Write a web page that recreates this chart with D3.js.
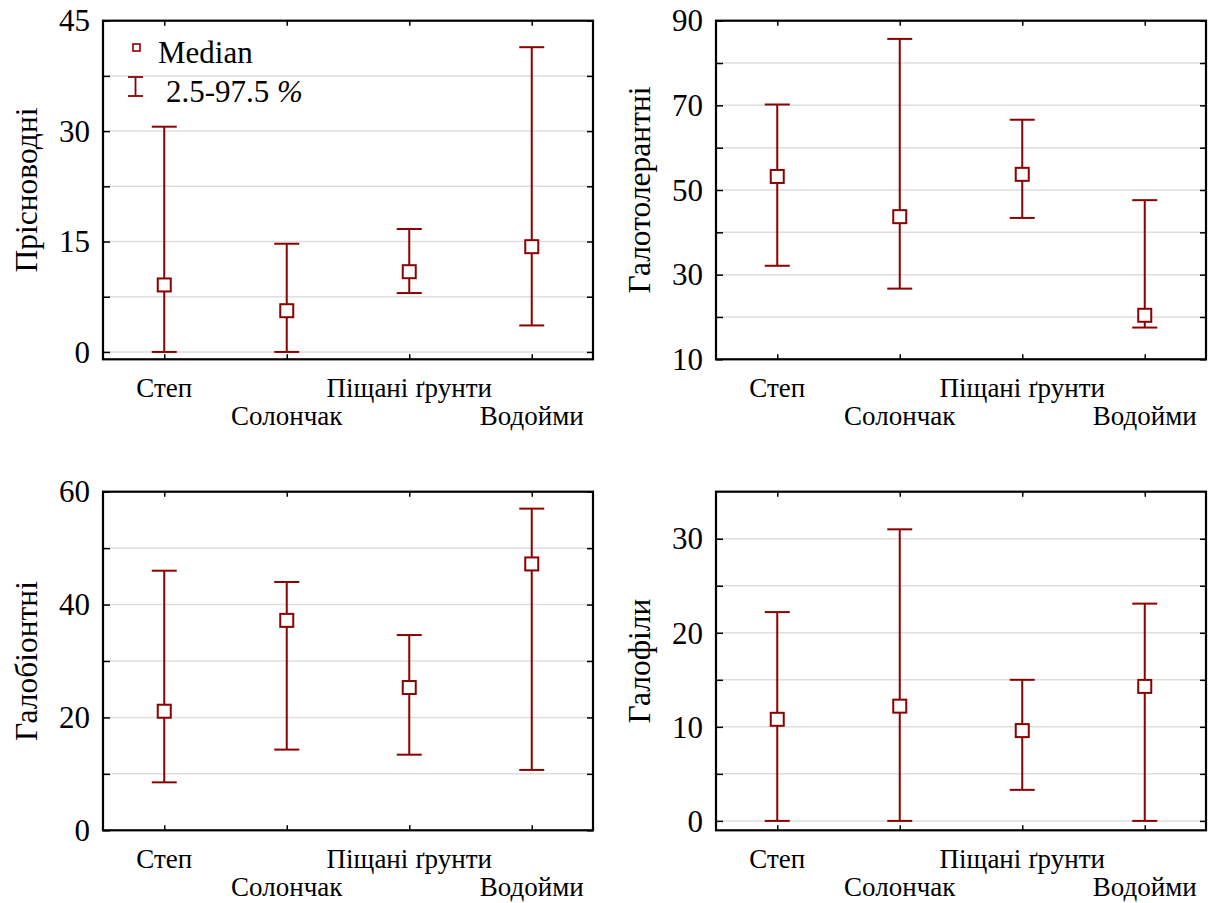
<!DOCTYPE html>
<html>
<head>
<meta charset="utf-8">
<script src="https://cdn.jsdelivr.net/npm/d3@7"></script>
<style>
  body { margin: 0; background: #fff; }
</style>
</head>
<body>
<script>
// four panels of median + 2.5-97.5 % intervals per habitat
const categories = ["Степ", "Солончак", "Піщані ґрунти", "Водойми"];

const freshMedian = [9.1, 5.6, 10.9, 14.3];
const freshLow = [0, 0, 8.0, 3.6];
const freshHigh = [30.6, 14.7, 16.7, 41.4];
const freshTicks = [0, 15, 30, 45];
const freshGrid = [0, 7.5, 15, 22.5, 30, 37.5, 45];

const tolMedian = [53.2, 43.7, 53.7, 20.4];
const tolLow = [32.1, 26.7, 43.4, 17.5];
const tolHigh = [70.2, 85.7, 66.6, 47.6];
const tolTicks = [10, 30, 50, 70, 90];
const tolGrid = [10, 20, 30, 40, 50, 60, 70, 80, 90];

const bioMedian = [21.1, 37.2, 25.3, 47.2];
const bioLow = [8.5, 14.3, 13.4, 10.7];
const bioHigh = [46.0, 44.0, 34.6, 57.0];
const bioTicks = [0, 20, 40, 60];
const bioGrid = [0, 10, 20, 30, 40, 50, 60];

const philMedian = [10.8, 12.2, 9.6, 14.3];
const philLow = [0, 0, 3.3, 0];
const philHigh = [22.2, 31.0, 15.0, 23.1];
const philTicks = [0, 10, 20, 30];
const philGrid = [0, 5, 10, 15, 20, 25, 30];

const WIDTH = 1213;
const HEIGHT = 903;
const PW = 490;      // plot width
const PH = 338.6;    // plot height
const RED = "#8B0000";
const FONT = '"Liberation Serif", serif';

const panels = [
  {title: "Прісноводні", median: freshMedian, low: freshLow, high: freshHigh, ticks: freshTicks, grid: freshGrid, domain: [-1, 45], x: 103, y: 20.7},
  {title: "Галотолерантні", median: tolMedian, low: tolLow, high: tolHigh, ticks: tolTicks, grid: tolGrid, domain: [10, 90], x: 716, y: 20.7},
  {title: "Галобіонтні", median: bioMedian, low: bioLow, high: bioHigh, ticks: bioTicks, grid: bioGrid, domain: [0, 60], x: 103, y: 491.7},
  {title: "Галофіли", median: philMedian, low: philLow, high: philHigh, ticks: philTicks, grid: philGrid, domain: [-1, 35], x: 716, y: 491.7}
];

const svg = d3.select("body")
  .append("svg")
  .attr("width", WIDTH)
  .attr("height", HEIGHT)
  .style("display", "block");

panels.forEach(p => {
  const g = svg.append("g").attr("transform", `translate(${p.x},${p.y})`);

  const xScale = d3.scalePoint().domain(categories).range([0, PW]).padding(0.5);
  const yScale = d3.scaleLinear().domain(p.domain).range([PH, 0]);

  // gridlines
  g.selectAll(".grid")
    .data(p.grid)
    .join("line")
    .attr("class", "grid")
    .attr("x1", 0).attr("x2", PW)
    .attr("y1", d => yScale(d)).attr("y2", d => yScale(d))
    .attr("stroke", "#dedede")
    .attr("stroke-width", 1.5);

  // axes, ticks pointing inward
  const yAxis = d3.axisLeft(yScale)
    .tickValues(p.grid)
    .tickSize(-7)
    .tickSizeOuter(0)
    .tickPadding(13)
    .tickFormat(d => p.ticks.includes(d) ? d : "");
  const yAxisG = g.append("g").call(yAxis);
  yAxisG.selectAll("text")
    .style("font-family", FONT)
    .style("font-size", "31px")
    .attr("fill", "#000")
    .attr("dy", "0.33em");

  g.append("g").attr("transform", `translate(${PW},0)`)
    .call(d3.axisRight(yScale).tickValues(p.grid).tickSize(-6).tickSizeOuter(0).tickFormat(""));
  g.append("g")
    .call(d3.axisTop(xScale).tickSize(-5).tickSizeOuter(0).tickFormat(""));
  g.append("g").attr("transform", `translate(0,${PH})`)
    .call(d3.axisBottom(xScale).tickSize(-5).tickSizeOuter(0).tickFormat(""));

  g.selectAll(".tick line").attr("stroke", "#000").attr("stroke-width", 1.5);
  g.selectAll(".domain").remove();

  g.append("rect")
    .attr("width", PW).attr("height", PH)
    .attr("fill", "none")
    .attr("stroke", "#000")
    .attr("stroke-width", 2.2);

  // staggered category labels
  g.selectAll(".cat")
    .data(categories)
    .join("text")
    .attr("class", "cat")
    .attr("x", d => xScale(d))
    .attr("y", (d, i) => PH + (i % 2 === 0 ? 37.5 : 66))
    .attr("text-anchor", "middle")
    .style("font-family", FONT)
    .style("font-size", "27px")
    .text(d => d);

  // y title
  g.append("text")
    .attr("transform", "rotate(-90)")
    .attr("x", -PH / 2)
    .attr("y", -66)
    .attr("text-anchor", "middle")
    .style("font-family", FONT)
    .style("font-size", "31.5px")
    .text(p.title);

  // whiskers
  const CAP = 12.5;
  const bars = g.selectAll(".bar")
    .data(categories)
    .join("g")
    .attr("class", "bar");

  bars.append("line")
    .attr("x1", d => xScale(d)).attr("x2", d => xScale(d))
    .attr("y1", (d, i) => yScale(p.low[i])).attr("y2", (d, i) => yScale(p.high[i]));
  bars.append("line")
    .attr("x1", d => xScale(d) - CAP).attr("x2", d => xScale(d) + CAP)
    .attr("y1", (d, i) => yScale(p.high[i])).attr("y2", (d, i) => yScale(p.high[i]));
  bars.append("line")
    .attr("x1", d => xScale(d) - CAP).attr("x2", d => xScale(d) + CAP)
    .attr("y1", (d, i) => yScale(p.low[i])).attr("y2", (d, i) => yScale(p.low[i]));
  bars.selectAll("line").attr("stroke", RED).attr("stroke-width", 2);

  bars.append("rect")
    .attr("x", d => xScale(d) - 6.5)
    .attr("y", (d, i) => yScale(p.median[i]) - 6.5)
    .attr("width", 13).attr("height", 13)
    .attr("fill", "#fff")
    .attr("stroke", RED)
    .attr("stroke-width", 2);
});

// legend in first panel
const legend = svg.append("g");
legend.append("rect")
  .attr("x", 133).attr("y", 44).attr("width", 7).attr("height", 7)
  .attr("fill", "#fff").attr("stroke", RED).attr("stroke-width", 1.6);
legend.append("text")
  .attr("x", 158).attr("y", 63)
  .style("font-family", FONT)
  .style("font-size", "31px")
  .text("Median");

legend.append("line").attr("x1", 135.5).attr("x2", 135.5).attr("y1", 77).attr("y2", 96);
legend.append("line").attr("x1", 128).attr("x2", 143).attr("y1", 77).attr("y2", 77);
legend.append("line").attr("x1", 128).attr("x2", 143).attr("y1", 96).attr("y2", 96);
legend.selectAll("line").attr("stroke", RED).attr("stroke-width", 1.8);

const lt = legend.append("text")
  .attr("x", 166).attr("y", 102)
  .style("font-family", FONT)
  .style("font-size", "31px");
lt.append("tspan").text("2.5-97.5 ");
lt.append("tspan").style("font-style", "italic").text("%");
</script>
</body>
</html>
